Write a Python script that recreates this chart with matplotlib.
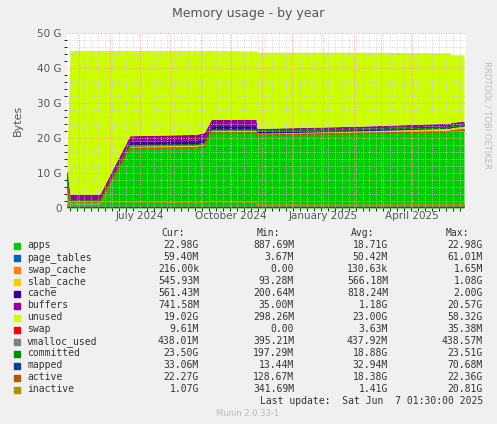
import numpy as np
import matplotlib
matplotlib.use("Agg")
import matplotlib.pyplot as plt
import matplotlib.dates as mdates
from datetime import datetime, timedelta

# ---- DATA (values in G, days from 2024-04-19) ----
START = datetime(2024, 4, 19)
days = [0, 3, 33, 63, 130, 138, 145, 175, 190, 191, 290, 385, 386, 399]
apps = [7.5, 1.2, 1.2, 17.3, 17.5, 18.0, 21.8, 21.8, 21.8, 21.0, 21.5, 22.2, 22.4, 22.8]
page_tables = [0.05] * 14
swap_cache = [0.0] * 14
slab_cache = [0.2, 0.3, 0.3, 0.4, 0.5, 0.5, 0.5, 0.5, 0.5, 0.3, 0.4, 0.5, 0.5, 0.5]
cache = [0.5, 0.8, 0.8, 1.3, 1.3, 1.3, 1.2, 1.2, 1.2, 0.8, 0.8, 0.8, 0.8, 0.8]
buffers = [0.3, 1.6, 1.6, 1.6, 1.7, 1.7, 1.8, 1.8, 1.8, 0.6, 0.6, 0.7, 0.7, 0.7]
total = [15.7, 45.0, 45.0, 45.0, 45.0, 45.0, 45.0, 44.9, 44.8, 44.5, 44.5, 44.3, 43.7, 43.7]
swap = [0.01] * 14
committed = [10.0, 2.0, 2.0, 17.8, 18.0, 18.5, 22.3, 22.3, 22.3, 22.0, 22.4, 22.9, 23.3, 23.5]
active = [7.0, 1.5, 1.5, 17.0, 17.2, 17.7, 21.5, 21.5, 21.5, 20.8, 21.3, 21.8, 22.0, 22.3]
inactive = [0.5, 1.8, 1.8, 1.8, 1.6, 1.7, 1.9, 1.7, 1.7, 0.9, 0.8, 1.0, 1.0, 1.0]
vmalloc = [0.43] * 14
mapped = [0.03] * 14

names = ["apps", "page_tables", "swap_cache", "slab_cache", "cache", "buffers",
         "unused", "swap", "vmalloc_used", "committed", "mapped", "active", "inactive"]
colors = ["#00CC00", "#0066B3", "#FF8000", "#FFCC00", "#330099", "#990099",
          "#CCFF00", "#FF0000", "#808080", "#008F00", "#00487D", "#B35A00", "#B38F00"]
cur = ["22.98G", "59.40M", "216.00k", "545.93M", "561.43M", "741.58M", "19.02G",
       "9.61M", "438.01M", "23.50G", "33.06M", "22.27G", "1.07G"]
mins = ["887.69M", "3.67M", "0.00", "93.28M", "200.64M", "35.00M", "298.26M",
        "0.00", "395.21M", "197.29M", "13.44M", "128.67M", "341.69M"]
avgs = ["18.71G", "50.42M", "130.63k", "566.18M", "818.24M", "1.18G", "23.00G",
        "3.63M", "437.92M", "18.88G", "32.94M", "18.38G", "1.41G"]
maxs = ["22.98G", "61.01M", "1.65M", "1.08G", "2.00G", "20.57G", "58.32G",
        "35.38M", "438.57M", "23.51G", "70.68M", "22.36G", "20.81G"]

W, H = 497, 424
fig = plt.figure(figsize=(W / 100, H / 100), dpi=100, facecolor="#F0F0F0")
ax = fig.add_axes([67 / W, (H - 208) / H, 399 / W, 175 / H])
ax.set_facecolor("white")

dates = [START + timedelta(days=d) for d in days]
stack = [apps, page_tables, swap_cache, slab_cache, cache, buffers]
base = np.zeros(len(days))
for vals, c in zip(stack, colors[:6]):
    top = base + np.array(vals)
    ax.fill_between(dates, base, top, color=c, lw=0)
    base = top
unused = np.array(total) - base
ax.fill_between(dates, base, base + unused, color=colors[6], lw=0)
ax.fill_between(dates, base + unused, base + unused + np.array(swap), color=colors[7], lw=0)

for vals, c in zip([vmalloc, committed, mapped, active, inactive], colors[8:]):
    ax.plot(dates, vals, color=c, lw=1.2)

ax.set_xlim(START, START + timedelta(days=401))
ax.set_ylim(0, 50)
ax.set_yticks([0, 10, 20, 30, 40, 50])
ax.set_yticklabels(["0", "10 G", "20 G", "30 G", "40 G", "50 G"])
ax.set_yticks(np.arange(0, 50, 2), minor=True)
ax.xaxis.set_major_locator(mdates.MonthLocator(bymonth=[1, 4, 7, 10], bymonthday=1))
ax.xaxis.set_major_formatter(mdates.DateFormatter("%B %Y"))
ax.xaxis.set_minor_locator(mdates.WeekdayLocator(byweekday=0))
ax.grid(which="minor", color="#CCCCCC", ls=":", lw=0.6, zorder=5)
for m in range(12):
    d = datetime(2024 + (4 + m) // 12, (4 + m) % 12 + 1, 1)
    ax.axvline(d, color="#FF9999", ls=":", lw=0.7, zorder=6)
for y in range(10, 51, 10):
    ax.axhline(y, color="#FF9999", ls=":", lw=0.7, zorder=6)
ax.set_axisbelow(False)
for s in ax.spines.values():
    s.set_visible(False)
ax.tick_params(labelsize=7.5, colors="#555555", length=0, pad=4)
ax.tick_params(axis="x", pad=2)
ax.set_ylabel("Bytes", fontsize=8, color="#555555", labelpad=10)

fig.text(248 / W, 1 - 13 / H, "Memory usage - by year", fontsize=9, color="#555555",
         ha="center", va="center")
fig.text(487 / W, 1 - 115 / H, "RRDTOOL / TOBI OETIKER", fontsize=6, color="#BBBBBB",
         rotation=270, ha="center", va="center")

mono = dict(family="DejaVu Sans Mono", fontsize=7, color="#333333", va="center")
hy = 233
for lbl, x in zip(["Cur:", "Min:", "Avg:", "Max:"], [185, 280, 374, 469]):
    fig.text(x / W, 1 - hy / H, lbl, ha="right", **mono)
for i, n in enumerate(names):
    y = 245.5 + 12 * i
    fig.patches.append(plt.Rectangle((14 / W, 1 - (y + 3) / H), 6 / W, 6 / H,
                                     transform=fig.transFigure, color=colors[i]))
    fig.text(27 / W, 1 - y / H, n, ha="left", **mono)
    for v, x in zip([cur[i], mins[i], avgs[i], maxs[i]], [199, 294, 388, 483]):
        fig.text(x / W, 1 - y / H, v, ha="right", **mono)
fig.text(483 / W, 1 - 401 / H, "Last update:  Sat Jun  7 01:30:00 2025", ha="right", **mono)
fig.text(248 / W, 1 - 413 / H, "Munin 2.0.33-1", fontsize=6, color="#BBBBBB",
         ha="center", va="center")

fig.savefig("out.png", dpi=100, facecolor=fig.get_facecolor())
